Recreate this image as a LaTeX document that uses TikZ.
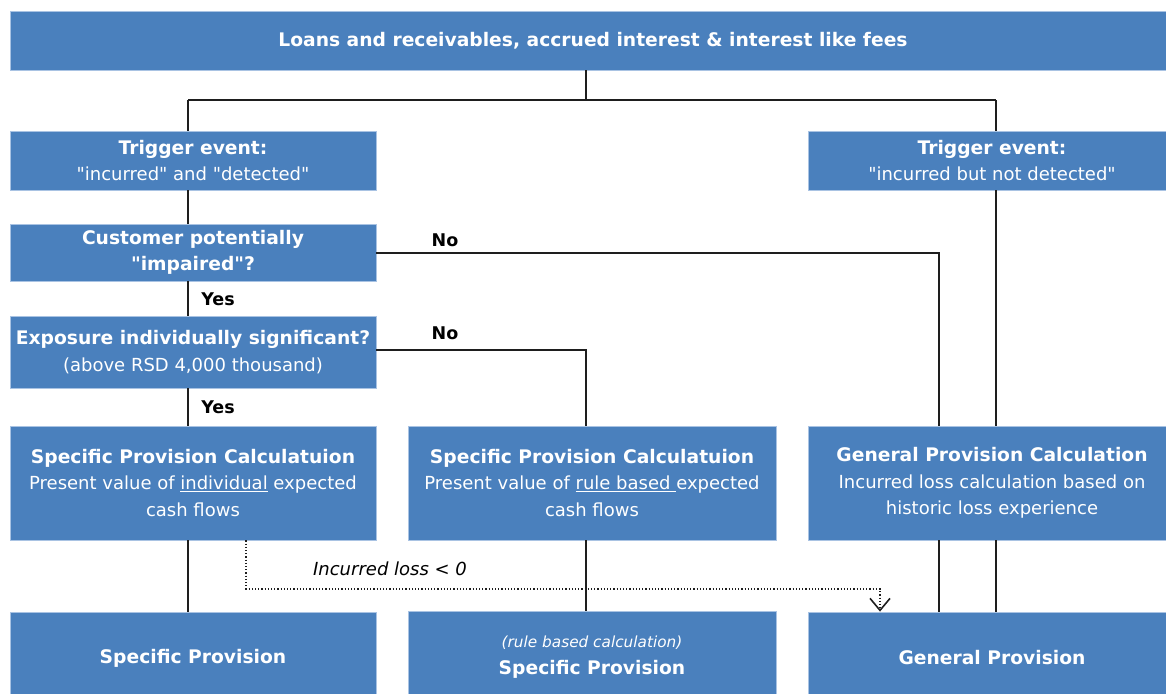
\documentclass[tikz,border=0pt]{standalone}
\usepackage{fontspec}
\setmainfont{DejaVu Sans}[Ligatures=TeXOff]
\usetikzlibrary{arrows.meta}
\definecolor{boxblue}{HTML}{4A80BD}
\definecolor{boxedge}{HTML}{A9C3E3}
\definecolor{linegray}{HTML}{1E1E1E}
\newcommand{\hd}{\fontsize{18.7}{26}\selectfont\bfseries}
\tikzset{
  box/.style={fill=boxblue, draw=boxedge, line width=0.8pt, text=white, align=center,
    inner sep=0pt, font=\fontsize{18}{26.5}\selectfont},
  conn/.style={draw=linegray, line width=1.4pt},
  lbl/.style={inner sep=0pt, font=\fontsize{17.5}{20}\selectfont\bfseries, text=black},
}
\begin{document}
\begin{tikzpicture}[x=1pt,y=-1pt]
\useasboundingbox (0,0) rectangle (1166,693);
\fill[white] (0,0) rectangle (1166,693);
% boxes
\node[box, minimum width=1166, minimum height=59] (top) at (593,40.5) {\hd Loans and receivables, accrued interest \& interest like fees};
\node[box, minimum width=366, minimum height=59] (tl) at (193,160.5) {{\hd Trigger event:}\\"incurred" and "detected"};
\node[box, minimum width=368, minimum height=59] (tr) at (992,160.5) {{\hd Trigger event:}\\"incurred but not detected"};
\node[box, minimum width=366, minimum height=57] (cust) at (193,252.5) {\hd Customer potentially\\\hd "impaired"?};
\node[box, minimum width=366, minimum height=72] (expo) at (193,352) {{\hd Exposure individually significant?}\\(above RSD 4,000 thousand)};
\node[box, minimum width=366, minimum height=114] (c1) at (193,483) {{\hd Specific Provision Calculatuion}\\Present value of \underline{individual} expected\\cash flows};
\node[box, minimum width=368, minimum height=114] (c2) at (592,483) {{\hd Specific Provision Calculatuion}\\Present value of \underline{rule based\ }expected\\cash flows};
\node[box, minimum width=368, minimum height=114] (c3) at (992,483) {{\hd General Provision Calculation}\\Incurred loss calculation based on\\historic loss experience};
\node[box, minimum width=366, minimum height=92] (p1) at (193,658) {\hd Specific Provision};
\node[box, minimum width=368, minimum height=92] (p2) at (592,657) {{\fontsize{15.3}{20}\selectfont\itshape (rule based calculation)}\\\hd Specific Provision};
\node[box, minimum width=368, minimum height=92] (p3) at (992,658) {\hd General Provision};
% helper coordinates
\coordinate (xL) at (188,0);
\coordinate (xM) at (586,0);
\coordinate (xG) at (939,0);
\coordinate (xR) at (996,0);
\coordinate (xD) at (246,0);
\coordinate (xA) at (880,0);
\coordinate (yBus) at (0,100);
\coordinate (yNo1) at (0,253);
\coordinate (yNo2) at (0,350);
\coordinate (yDot) at (0,589);
% connectors
\draw[conn] (top.south -| xM) -- (xM |- yBus);
\draw[conn] (xL |- yBus) -- (xR |- yBus);
\draw[conn] (xL |- yBus) -- (tl.north -| xL);
\draw[conn] (xR |- yBus) -- (tr.north -| xR);
\draw[conn] (tl.south -| xL) -- (cust.north -| xL);
\draw[conn] (cust.south -| xL) -- (expo.north -| xL);
\draw[conn] (expo.south -| xL) -- (c1.north -| xL);
\draw[conn] (cust.east |- yNo1) -| (c3.north -| xG);
\draw[conn] (expo.east |- yNo2) -| (c2.north -| xM);
\draw[conn] (tr.south -| xR) -- (c3.north -| xR);
\draw[conn] (c1.south -| xL) -- (p1.north -| xL);
\draw[conn] (c2.south -| xM) -- (p2.north -| xM);
\draw[conn] (c3.south -| xG) -- (p3.north -| xG);
\draw[conn] (c3.south -| xR) -- (p3.north -| xR);
\draw[draw=linegray, line width=1.2pt, dotted, -{Straight Barb[length=12pt,width=20pt,line width=1.6pt,sep=0pt]}]
  (c1.south -| xD) |- (xA |- yDot) -- (p3.north -| xA);
% labels
\node[lbl] (no1) at (445,240) {No};
\node[lbl] (no2) at (445,333) {No};
\node[lbl] (yes1) at (218,299) {Yes};
\node[lbl] (yes2) at (218,407) {Yes};
\node[inner sep=0pt, font=\fontsize{18}{20}\selectfont\itshape] (il) at (390,569) {Incurred loss < 0};
\end{tikzpicture}
\end{document}
